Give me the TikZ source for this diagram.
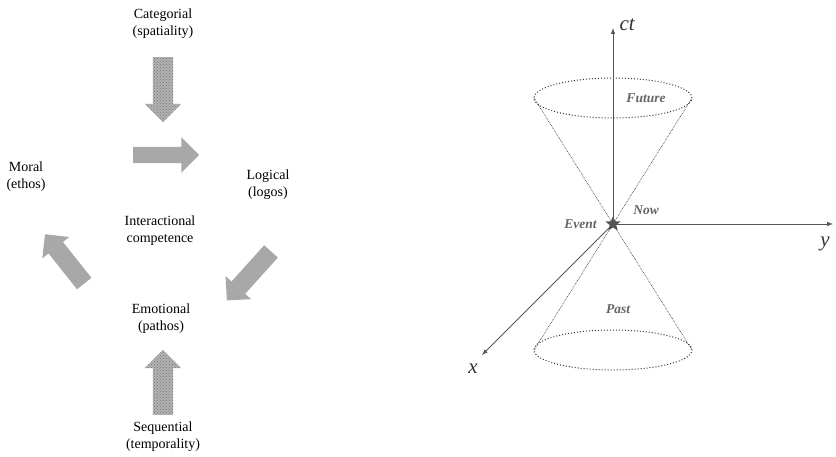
\documentclass[tikz,border=0pt]{standalone}
\usepackage{fontspec}
\setmainfont{Liberation Serif}
\usepackage{tikz}
\usetikzlibrary{shapes.arrows,shapes.geometric,patterns,positioning}
\definecolor{arrowgray}{RGB}{168,168,168}
\definecolor{axisgray}{RGB}{85,85,85}
\definecolor{labelgray}{RGB}{100,100,100}

\begin{document}
\begin{tikzpicture}[x=1pt, y=-1pt,
    label/.style={align=center, font=\fontsize{14}{17}\selectfont},
    bigarrow/.style={single arrow, draw=none, fill=arrowgray, inner xsep=0pt, inner ysep=9pt,
        minimum height=65pt, single arrow head extend=8pt},
    dotarrow/.style={bigarrow, inner ysep=10pt, single arrow head extend=8pt,
        fill=none, preaction={fill=black!30}, pattern=crosshatch dots, pattern color=black!55},
    axis/.style={-latex, color=axisgray, line width=1pt},
    cone/.style={densely dotted, color=black!75, line width=0.7pt},
    rim/.style={dotted, color=black!80, line width=1pt},
    conelabel/.style={font=\fontsize{13.5}{15}\selectfont\itshape\bfseries, text=labelgray},
    axislabel/.style={font=\fontsize{21}{21}\selectfont\itshape, text=black!80}
]
    \useasboundingbox (0,0) rectangle (836,456);

    % interactional competence
    \node[label] (categorial) at (163,24) {Categorial\\(spatiality)};
    \node[label] (moral) at (26,177) {Moral\\(ethos)};
    \node[label] (logical) at (268,185) {Logical\\(logos)};
    \node[label] (interact) at (160,231) {Interactional\\competence};
    \node[label] (emotional) at (161,319) {Emotional\\(pathos)};
    \node[label] (sequential) at (163,437) {Sequential\\(temporality)};

    \node[dotarrow, rotate=-90] (down) at (163,84.5) {};
    \node[dotarrow, rotate=90] (up) at (163,387.5) {};
    \node[bigarrow, rotate=0, minimum height=66pt, inner ysep=8pt,
        single arrow head extend=9.5pt] (toright) at (162,155) {};
    \node[bigarrow, rotate=228, minimum height=66pt] (toleftdown) at (252,272.5) {};
    \node[bigarrow, rotate=128.5, minimum height=63pt] (toleftup) at (67.5,262.5) {};

    % light cone
    \coordinate (event) at (613,224);
    \coordinate (ctend) at (613,28);
    \coordinate (yend) at (833,224);
    \coordinate (xend) at (482,355);
    \coordinate (futl) at (534,98);
    \coordinate (futr) at (692,98);
    \coordinate (pastl) at (534,350);
    \coordinate (pastr) at (692,350);

    \draw[cone] (futl) -- (event) -- (futr);
    \draw[cone] (pastl) -- (event) -- (pastr);
    \draw[rim] (613,98) ellipse [x radius=79pt, y radius=20pt];
    \draw[rim] (613,350) ellipse [x radius=79pt, y radius=20pt];

    \draw[axis] (event) -- (ctend);
    \draw[axis] (event) -- (yend);
    \draw[axis] (event) -- (xend);

    \node[star, star points=5, star point ratio=2.3, fill=axisgray, inner sep=0pt,
        minimum size=16pt] (star) at (event) {};

    \node[axislabel, anchor=west] (ct) at (616,25) {ct};
    \node[axislabel] (ylabel) at (825,244) {y};
    \node[axislabel] (xlabel) at (473,369) {x};
    \node[conelabel] (future) at (646,98) {Future};
    \node[conelabel] (past) at (618,309) {Past};
    \node[conelabel] (now) at (646,210) {Now};
    \node[conelabel, left=8pt of star] (eventlabel) {Event};
\end{tikzpicture}
\end{document}
